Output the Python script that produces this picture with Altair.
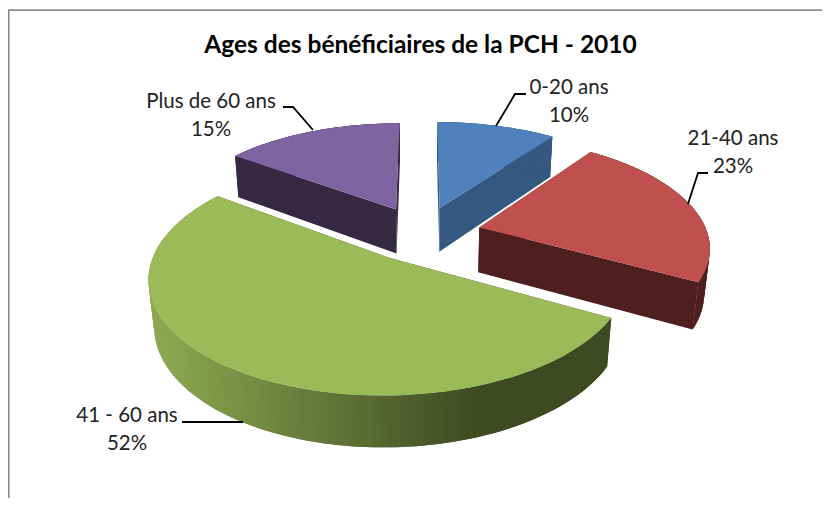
import math
import altair as alt
import pandas as pd

# ---- chart values
categories = ["0-20 ans", "21-40 ans", "41 - 60 ans", "Plus de 60 ans"]
shares = [10, 23, 52, 15]
title_text = "Ages des bénéficiaires de la PCH - 2010"

# ---- styles
top_colors = ["#4f81bd", "#c0504d", "#9bbb59", "#8064a2"]
side_colors = ["#34587f", "#4e1f1e", "#3f4a23", "#362842"]
font = "Lato"

# ---- 3D view of the pie (page pixels)
CX, CY, AX, BY, KP, EXPL, THICK, QZ = 422, 233.4, 228, 107, 0.16, 0.26, 46, 0.02
STEP = 1.5


def project(theta_deg, r, mid_deg, z):
    t, m = math.radians(theta_deg), math.radians(mid_deg)
    X = r * math.sin(t) + EXPL * math.sin(m)
    Y = r * math.cos(t) + EXPL * math.cos(m)
    w = 1 + KP * Y + QZ * z
    return [CX + AX * X / w, CY + (-BY * Y + THICK * z) / w]


def poly(points, color):
    ring = [list(p) for p in points]
    ring.append(ring[0])
    return {"type": "Feature",
            "geometry": {"type": "Polygon", "coordinates": [ring]},
            "properties": {"fill": color}}


def lerp_color(x):
    a, b = (0x8b, 0xa8, 0x50), (0x3f, 0x4a, 0x23)
    f = min(1, max(0, (x - 160) / 320))
    return "#%02x%02x%02x" % tuple(round(a[i] + (b[i] - a[i]) * f) for i in range(3))


def slice_features(start, end, top, side, gradient):
    mid = (start + end) / 2
    n = max(2, int((end - start) / STEP))
    th = [start + (end - start) * i / n for i in range(n + 1)]
    feats = []
    for edge in (start, end):
        feats.append(poly([project(edge, 0, mid, 0), project(edge, 1, mid, 0),
                           project(edge, 1, mid, 1), project(edge, 0, mid, 1)], side))
    for a, b in zip(th[:-1], th[1:]):
        pa = project(a, 1, mid, 0)
        col = lerp_color(pa[0]) if gradient else side
        over = min(end, b + (b - a))  # overlap the next strip so no seam shows
        arc = [a, b, over]
        feats.append(poly([project(t, 1, mid, 0) for t in arc]
                          + [project(t, 1, mid, 1) for t in reversed(arc)], col))
    feats.append(poly([project(0, 0, mid, 0)] + [project(t, 1, mid, 0) for t in th], top))
    return feats


angles = []
acc = 0
for s in shares:
    angles.append((acc * 3.6, (acc + s) * 3.6))
    acc += s

features = []
for idx in (3, 0, 1, 2):  # painter's order: back to front
    features += slice_features(angles[idx][0], angles[idx][1], top_colors[idx],
                               side_colors[idx], idx == 2)

# ---- labels and leaders (page pixels)
title_rows = [(420.5, 46, title_text)]
label_rows = [
    (211, 102, categories[3]),
    (211, 130, f"{shares[3]}%"),
    (569, 88, categories[0]),
    (569, 116, f"{shares[0]}%"),
    (733, 139, categories[1]),
    (733, 167, f"{shares[1]}%"),
    (127, 416, categories[2]),
    (127, 444, f"{shares[2]}%"),
]
title_df = pd.DataFrame(title_rows, columns=["x", "y", "t"])
label_df = pd.DataFrame(label_rows, columns=["x", "y", "t"])
for df in (title_df, label_df):
    df["x"] -= 8
    df["y"] -= 8

leader_paths = [
    [[283, 107], [293, 107], [313, 130]],
    [[526, 94], [515, 94], [496, 126]],
    [[708, 173], [698, 173], [688, 204]],
    [[182, 422], [243, 422]],
]
frame_path = [[8.7, 506], [8.7, 10.2], [830, 10.2]]


def line_feature(path):
    return {"type": "Feature",
            "geometry": {"type": "LineString", "coordinates": path},
            "properties": {}}


proj = dict(type="identity", scale=1, translate=[-8, -8])

pie = alt.Chart(alt.Data(values=features)).mark_geoshape(strokeWidth=0).encode(
    fill=alt.Color("properties.fill:N", scale=None, legend=None),
).project(**proj)

leaders = alt.Chart(alt.Data(values=[line_feature(p) for p in leader_paths])).mark_geoshape(
    filled=False, stroke="#000000", strokeWidth=1.8
).project(**proj)

frame = alt.Chart(alt.Data(values=[line_feature(frame_path)])).mark_geoshape(
    filled=False, stroke="#8c8c8c", strokeWidth=1.8
).project(**proj)

title_layer = alt.Chart(title_df).mark_text(
    font=font, baseline="middle", align="center", fontWeight="bold", fontSize=24.5, color="#000000"
).encode(x=alt.X("x:Q", scale=None, axis=None), y=alt.Y("y:Q", scale=None, axis=None), text="t:N")
labels = alt.Chart(label_df).mark_text(
    font=font, baseline="middle", align="center", fontSize=20.5, color="#222222"
).encode(x=alt.X("x:Q", scale=None, axis=None), y=alt.Y("y:Q", scale=None, axis=None), text="t:N")

chart = alt.layer(frame, pie, leaders, title_layer, labels).properties(
    width=814, height=490, background="#ffffff", padding=0
).configure_view(stroke=None)

chart.save("out.html", embed_options={"renderer": "svg", "actions": False})
